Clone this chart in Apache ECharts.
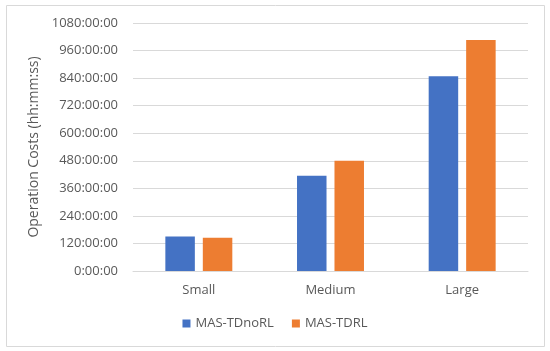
<!DOCTYPE html>
<html><head><meta charset="utf-8">
<script src="https://cdn.jsdelivr.net/npm/echarts@6/dist/echarts.min.js"></script>
<style>html,body{margin:0;padding:0;background:#fff}#c{width:550px;height:351px}</style>
</head><body><div id="c"></div>
<script>
const categories = ['Small', 'Medium', 'Large'];
const seriesNames = ['MAS-TDnoRL', 'MAS-TDRL'];
const noRL = [150, 415, 848];
const tdRL = [145, 480, 1006];
const yTicks = [0, 120, 240, 360, 480, 600, 720, 840, 960, 1080];

const chart = echarts.init(document.getElementById('c'), null, {renderer: 'canvas'});
const font = '"Open Sans", "Liberation Sans", sans-serif';
chart.setOption({
  animation: false,
  textStyle: {fontFamily: font},
  graphic: [{type: 'rect', shape: {x: 6.5, y: 5.5, width: 538, height: 341}, style: {fill: 'none', stroke: '#d9d9d9', lineWidth: 1}, silent: true}],
  grid: {left: 133, right: 22, top: 23, bottom: 80},
  legend: {
    data: seriesNames, bottom: 16, left: 'center', itemWidth: 8, itemHeight: 8, itemGap: 18,
    icon: 'rect', textStyle: {fontSize: 13, color: '#595959', fontFamily: font}
  },
  xAxis: {
    type: 'category', data: categories,
    axisLine: {lineStyle: {color: '#d9d9d9'}}, axisTick: {show: false},
    axisLabel: {fontSize: 13, color: '#595959', margin: 13, fontFamily: font}
  },
  yAxis: {
    type: 'value', min: yTicks[0], max: yTicks[yTicks.length - 1], interval: 120,
    name: 'Operation Costs (hh:mm:ss)', nameLocation: 'middle', nameGap: 88, nameRotate: 90,
    nameTextStyle: {fontSize: 14, color: '#595959', fontFamily: font},
    axisLine: {show: false}, axisTick: {show: false},
    axisLabel: {fontSize: 13, color: '#595959', margin: 15, fontFamily: font, formatter: v => v + ':00:00'},
    splitLine: {lineStyle: {color: '#d9d9d9', width: 1}}
  },
  series: [
    {name: seriesNames[0], type: 'bar', data: noRL, barWidth: 29.5, barGap: '27%', itemStyle: {color: '#4472c4'}},
    {name: seriesNames[1], type: 'bar', data: tdRL, barWidth: 29.5, itemStyle: {color: '#ed7d31'}}
  ]
});
</script></body></html>
